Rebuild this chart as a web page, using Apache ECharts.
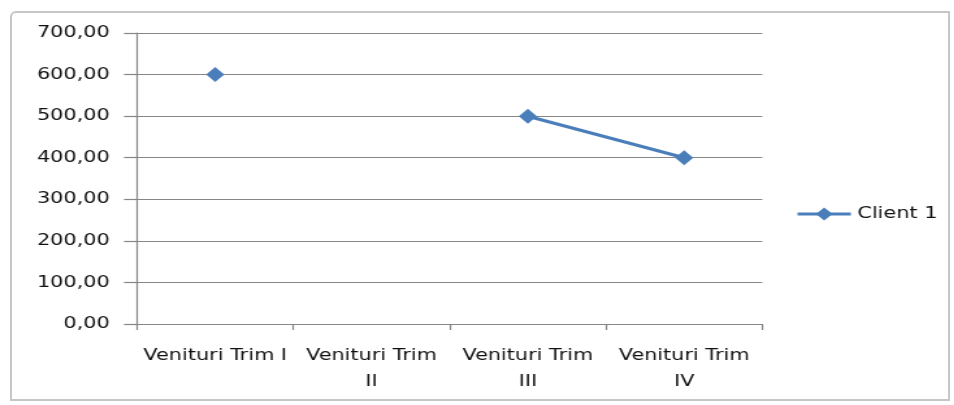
<!DOCTYPE html>
<html>
<head>
<meta charset="utf-8">
<script src="https://cdn.jsdelivr.net/npm/echarts@6/dist/echarts.min.js"></script>
<style>
  html, body { margin: 0; padding: 0; background: #ffffff; overflow: hidden; }
  #frame { position: absolute; left: 10px; top: 11px; width: 940px; height: 390px;
           border: 2px solid #c6c6c6; border-top-left-radius: 6px; box-sizing: border-box; }
  #chart { position: absolute; left: 0; top: 0; width: 733.85px; height: 405px;
           transform: scaleX(1.3); transform-origin: 0 0; }
</style>
</head>
<body>
<div id="frame"></div>
<div id="chart"></div>
<script>
const categories = ['Venituri Trim I', 'Venituri Trim II', 'Venituri Trim III', 'Venituri Trim IV'];
const seriesName = 'Client 1';
const client1 = [600, null, 500, 400];
const yMin = 0, yMax = 700, yStep = 100;

const chart = echarts.init(document.getElementById('chart'), null, { renderer: 'canvas' });
const axisGray = '#868686';
const textColor = '#111111';
const font = 'DejaVu Sans';

chart.setOption({
  animation: false,
  textStyle: { fontFamily: font },
  grid: { left: 105.4, right: 147.6, top: 33, bottom: 81, containLabel: false },
  legend: {
    data: [seriesName],
    left: 607, top: 201,
    orient: 'vertical',
    itemWidth: 41, itemHeight: 16,
    itemGap: 5,
    lineStyle: { width: 3 },
    textStyle: { fontFamily: font, fontSize: 16, color: textColor }
  },
  xAxis: {
    type: 'category',
    data: categories,
    boundaryGap: true,
    axisLine: { show: true, lineStyle: { color: axisGray, width: 1.2 } },
    axisTick: { show: true, length: 6, alignWithLabel: false, lineStyle: { color: axisGray, width: 1.2 } },
    axisLabel: {
      interval: 0, margin: 19, color: textColor, fontFamily: font, fontSize: 16, lineHeight: 26,
      formatter: function (v) {
        const i = v.lastIndexOf(' ');
        const tail = v.slice(i + 1);
        return tail.length > 1 ? v.slice(0, i) + '\n' + tail : v;
      }
    },
    splitLine: { show: false }
  },
  yAxis: {
    type: 'value',
    min: yMin, max: yMax, interval: yStep,
    axisLine: { show: true, lineStyle: { color: axisGray, width: 1.2 } },
    axisTick: { show: true, length: 10, lineStyle: { color: axisGray, width: 1.2 } },
    axisLabel: {
      margin: 21, color: textColor, fontFamily: font, fontSize: 16,
      formatter: function (v) { return v.toFixed(2).replace('.', ','); }
    },
    splitLine: { show: true, lineStyle: { color: axisGray, width: 1.2 } }
  },
  series: [{
    name: seriesName,
    type: 'line',
    data: client1,
    connectNulls: false,
    symbol: 'diamond',
    symbolSize: [14, 15],
    showAllSymbol: true,
    lineStyle: { color: '#4a7ebb', width: 3.2 },
    itemStyle: { color: '#4a7ebb', borderWidth: 0 }
  }]
});
</script>
</body>
</html>
